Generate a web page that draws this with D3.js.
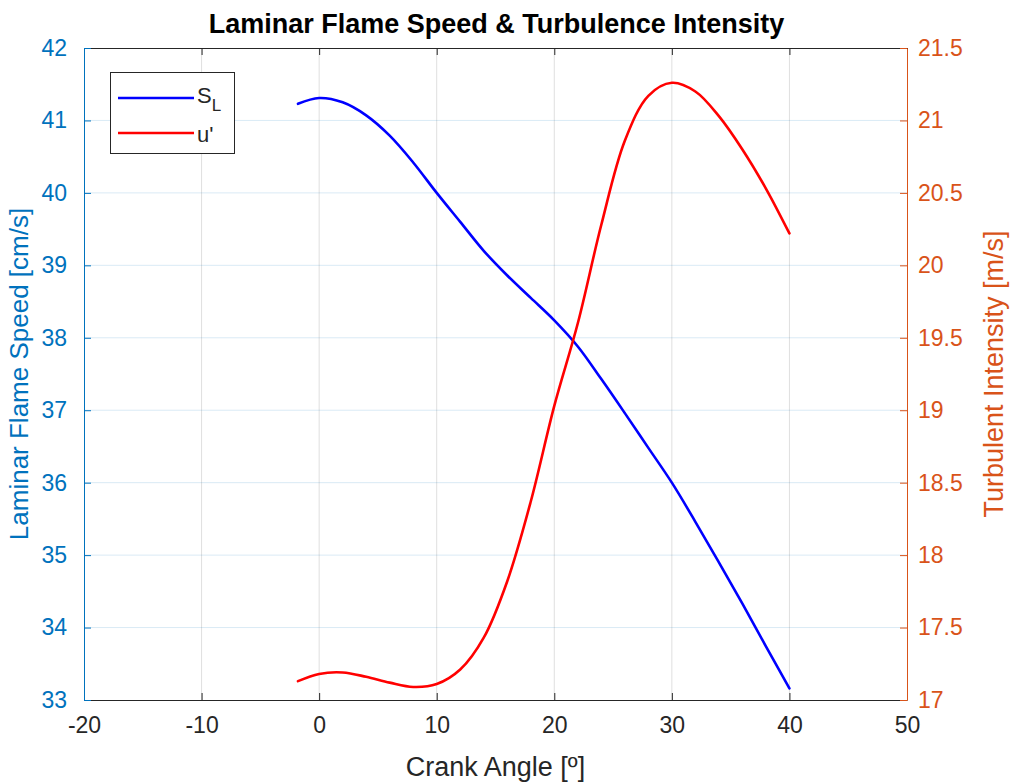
<!DOCTYPE html>
<html><head><meta charset="utf-8">
<script src="https://cdn.jsdelivr.net/npm/d3@7"></script>
<style>body{margin:0;background:#fff;} svg{display:block;} text{font-family:"Liberation Sans",Arial,Helvetica,sans-serif;}</style>
</head><body>
<svg id="c" width="1014" height="783"></svg>
<script>
const crankAngle = [-1.8, 0, 2, 4, 6, 8, 10, 12, 14, 16, 18, 20, 22, 24, 26, 28, 30, 32, 34, 36, 38, 40];
const flameSpeed = [41.23, 41.31, 41.25, 41.07, 40.79, 40.42, 40.0, 39.6, 39.2, 38.86, 38.55, 38.24, 37.88, 37.43, 36.96, 36.48, 36.0, 35.46, 34.9, 34.33, 33.74, 33.16];
const turbIntensity = [17.13, 17.18, 17.19, 17.16, 17.12, 17.09, 17.11, 17.21, 17.43, 17.82, 18.37, 19.03, 19.6, 20.28, 20.86, 21.17, 21.26, 21.2, 21.03, 20.8, 20.53, 20.22];
const xTicks = [-20, -10, 0, 10, 20, 30, 40, 50];
const yLeftTicks = [33, 34, 35, 36, 37, 38, 39, 40, 41, 42];
const yRightTicks = [17, 17.5, 18, 18.5, 19, 19.5, 20, 20.5, 21, 21.5];
const titleText = "Laminar Flame Speed & Turbulence Intensity";
const xLabel = "Crank Angle [º]";
const yLeftLabel = "Laminar Flame Speed [cm/s]";
const yRightLabel = "Turbulent Intensity [m/s]";

const L = 84, R = 907, T = 48, B = 700;
const blueAx = "#0072BD", orangeAx = "#D95319", dark = "#262626";
const tickFont = 23, labelFont = 27;
const svg = d3.select("#c");
const x = d3.scaleLinear().domain([-20, 50]).range([L, R]);
const yL = d3.scaleLinear().domain([33, 42]).range([B, T]);
const yR = d3.scaleLinear().domain([17, 21.5]).range([B, T]);

// grid
svg.append("g").selectAll("line").data(xTicks.slice(1, -1)).join("line")
  .attr("x1", d => x(d)).attr("x2", d => x(d)).attr("y1", T).attr("y2", B)
  .attr("stroke", "rgba(38,38,38,0.15)").attr("stroke-width", 1);
svg.append("g").selectAll("line").data(yLeftTicks.slice(1, -1)).join("line")
  .attr("x1", L).attr("x2", R).attr("y1", d => yL(d)).attr("y2", d => yL(d))
  .attr("stroke", "rgba(0,114,189,0.15)").attr("stroke-width", 1);

// axes
const tickLen = 7;
const fmt = d => String(d);
const xAxB = svg.append("g").attr("transform", `translate(0,${B})`)
  .call(d3.axisBottom(x).tickValues(xTicks).tickSizeInner(-tickLen).tickSizeOuter(0).tickPadding(17).tickFormat(fmt));
const xAxT = svg.append("g").attr("transform", `translate(0,${T})`)
  .call(d3.axisTop(x).tickValues(xTicks).tickSizeInner(-tickLen).tickSizeOuter(0).tickFormat(""));
[xAxB, xAxT].forEach(g => { g.selectAll("path,line").attr("stroke", dark); g.selectAll("text").attr("fill", dark).attr("font-size", tickFont); });
const yAxL = svg.append("g").attr("transform", `translate(${L},0)`)
  .call(d3.axisLeft(yL).tickValues(yLeftTicks).tickSizeInner(-tickLen).tickSizeOuter(0).tickPadding(17).tickFormat(fmt));
yAxL.selectAll("path,line").attr("stroke", blueAx);
yAxL.selectAll("text").attr("fill", blueAx).attr("font-size", tickFont);
const yAxR = svg.append("g").attr("transform", `translate(${R},0)`)
  .call(d3.axisRight(yR).tickValues(yRightTicks).tickSizeInner(-tickLen).tickSizeOuter(0).tickPadding(11).tickFormat(fmt));
yAxR.selectAll("path,line").attr("stroke", orangeAx);
yAxR.selectAll("text").attr("fill", orangeAx).attr("font-size", tickFont);
svg.selectAll(".domain").attr("stroke-width", 1);
xAxB.selectAll("text").attr("dy", "0.71em");

// lines
const lineL = d3.line().x((d, i) => x(crankAngle[i])).y(d => yL(d)).curve(d3.curveCatmullRom.alpha(0.5));
const lineR = d3.line().x((d, i) => x(crankAngle[i])).y(d => yR(d)).curve(d3.curveCatmullRom.alpha(0.5));
svg.append("path").attr("d", lineL(flameSpeed)).attr("fill", "none").attr("stroke", "#0000FF").attr("stroke-width", 2.6).attr("stroke-linecap", "round");
svg.append("path").attr("d", lineR(turbIntensity)).attr("fill", "none").attr("stroke", "#FF0000").attr("stroke-width", 2.6).attr("stroke-linecap", "round");

// title & labels
svg.append("text").attr("x", (L + R) / 2 + 1).attr("y", 33).attr("text-anchor", "middle")
  .attr("font-size", 27).attr("font-weight", "bold").attr("fill", "#000").text(titleText);
svg.append("text").attr("x", (L + R) / 2).attr("y", 776).attr("text-anchor", "middle")
  .attr("font-size", labelFont).attr("fill", dark).text(xLabel);
svg.append("text").attr("transform", `translate(28,${(T + B) / 2}) rotate(-90)`).attr("text-anchor", "middle")
  .attr("font-size", 26).attr("fill", blueAx).text(yLeftLabel);
svg.append("text").attr("transform", `translate(1003,${(T + B) / 2}) rotate(-90)`).attr("text-anchor", "middle")
  .attr("font-size", labelFont).attr("fill", orangeAx).text(yRightLabel);

// legend
const lg = svg.append("g");
lg.append("rect").attr("x", 110.5).attr("y", 72.5).attr("width", 124).attr("height", 81)
  .attr("fill", "#fff").attr("stroke", dark).attr("stroke-width", 1);
lg.append("line").attr("x1", 118).attr("x2", 194).attr("y1", 98).attr("y2", 98).attr("stroke", "#0000FF").attr("stroke-width", 2.6);
lg.append("line").attr("x1", 118).attr("x2", 194).attr("y1", 133).attr("y2", 133).attr("stroke", "#FF0000").attr("stroke-width", 2.6);
const t1 = lg.append("text").attr("x", 197).attr("y", 103).attr("font-size", 22).attr("fill", dark);
t1.append("tspan").text("S");
t1.append("tspan").attr("dy", 8).attr("font-size", 17).text("L");
lg.append("text").attr("x", 197).attr("y", 142).attr("font-size", 22).attr("fill", dark).text("u'");
</script>
</body></html>
